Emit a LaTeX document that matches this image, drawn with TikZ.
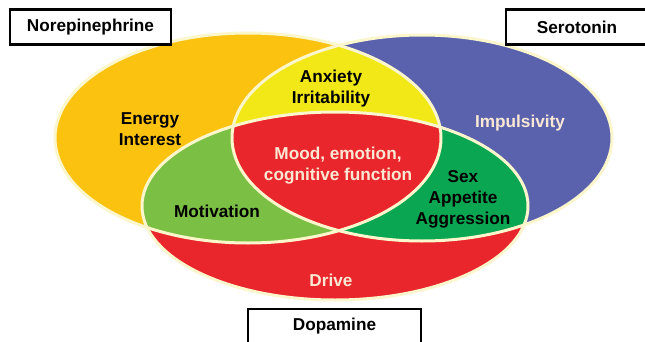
\documentclass[tikz,border=0pt]{standalone}
\usepackage{fontspec}
\setmainfont{Liberation Sans}
\usepackage{tikz}
\usetikzlibrary{positioning}
\definecolor{nepi}{HTML}{FBC30F}
\definecolor{sero}{HTML}{5A62AE}
\definecolor{dopa}{HTML}{E9262C}
\definecolor{anx}{HTML}{F2E817}
\definecolor{motiv}{HTML}{7BBF44}
\definecolor{sexgreen}{HTML}{0AA651}
\definecolor{rim}{HTML}{FBF6CC}
\definecolor{pale}{HTML}{FBE8D4}

\begin{document}
\begin{tikzpicture}[
  x=1pt,y=1pt,
  every node/.style={font=\fontsize{17.2}{21}\selectfont\bfseries,align=center},
  tag/.style={draw=black,line width=2.6pt,fill=white,minimum height=35pt,inner sep=0pt},
  dark/.style={text=black},
  light/.style={text=pale},
  rimline/.style={draw=rim,line width=3pt}
]
\useasboundingbox[fill=white] (0,0) rectangle (645,341);
\def\nepipath{(248,203) ellipse [x radius=193,y radius=105]}
\def\seropath{(422,203) ellipse [x radius=190,y radius=103]}
\def\dopapath{(335,135) ellipse [x radius=193,y radius=94]}
% the three systems
\fill[nepi] \nepipath;
\fill[sero] \seropath;
\fill[dopa] \dopapath;
% pairwise overlaps
\begin{scope}
  \clip \nepipath;
  \fill[anx] \seropath;
  \fill[motiv] \dopapath;
\end{scope}
\begin{scope}
  \clip \seropath;
  \fill[sexgreen] \dopapath;
\end{scope}
\begin{scope}
  \clip \nepipath;
  \clip \seropath;
  \fill[dopa] \dopapath;
\end{scope}
\draw[rimline] \nepipath;
\draw[rimline] \seropath;
\draw[rimline] \dopapath;
% region labels
\node[dark] (energy) at (150,212) {Energy\\Interest};
\node[dark] (anxiety) at (331,252) {Anxiety\\Irritability};
\node[light] (impuls) at (520,218) {Impulsivity};
\node[light] (mood) at (338,175) {Mood, emotion,\\cognitive function};
\node[dark] (motiv) at (217,130) {Motivation};
\node[dark] (sex) at (463,142) {Sex\\Appetite\\Aggression};
\node[light] (drive) at (331,61) {Drive};
% system names
\node[tag,minimum width=161pt] (ne) at (90.5,314) {Norepinephrine};
\node[tag,minimum width=142pt] (ht) at (577,314) {Serotonin};
\node[tag,minimum width=173pt] (da) at (334.5,14.5) {Dopamine};
\end{tikzpicture}
\end{document}
